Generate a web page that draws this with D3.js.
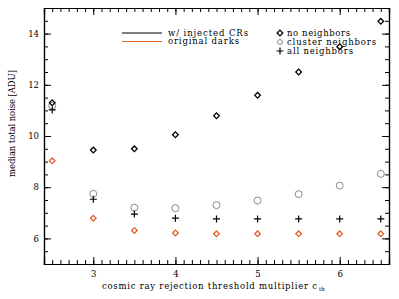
<!DOCTYPE html>
<html><head><meta charset="utf-8">
<script src="https://cdn.jsdelivr.net/npm/d3@7"></script>
<style>body{margin:0;background:#fff}svg{display:block}text{font-family:"DejaVu Serif",serif;}</style>
</head><body>
<script>
const xVals = [2.5, 3, 3.5, 4, 4.5, 5, 5.5, 6, 6.5];
const noNeighbors = [11.3, 9.45, 9.5, 10.05, 10.79, 11.59, 12.5, 13.49, 14.48];
const clusterNeighbors = [11.18, 7.74, 7.2, 7.18, 7.3, 7.48, 7.73, 8.06, 8.52];
const allNeighbors = [11.02, 7.53, 6.95, 6.79, 6.76, 6.76, 6.76, 6.76, 6.76];
const originalDarks = [9.03, 6.79, 6.31, 6.21, 6.18, 6.18, 6.18, 6.18, 6.18];
const xTickLabels = [3, 4, 5, 6];
const yTickLabels = [6, 8, 10, 12, 14];

const W = 399, H = 299;
const m = {l: 44, r: 10, t: 8, b: 35};
const svg = d3.select("body").append("svg").attr("width", W).attr("height", H);
const x = d3.scaleLinear().domain([2.4, 6.6]).range([m.l, W - m.r]);
const y = d3.scaleLinear().domain([5, 15]).range([H - m.b, m.t]);
const orange = "#e0632e", grey = "#8a8a8a";

const xMinor = d3.range(24, 67).map(v => v / 10);
const yMinor = d3.range(10, 31).map(v => v / 2);

function axis(gen, minor, major, translate, labels) {
  const g = svg.append("g").attr("transform", translate);
  g.call(gen.tickValues(minor).tickSize(4).tickFormat("")).call(s => s.selectAll("text").remove());
  const g2 = svg.append("g").attr("transform", translate);
  g2.call(gen.tickValues(major).tickSize(7).tickFormat(labels ? d3.format("d") : ""));
  if (!labels) g2.selectAll("text").remove();
  [g, g2].forEach(s => { s.select(".domain").attr("stroke", "#000").attr("stroke-width", 1.2); s.selectAll("line").attr("stroke", "#000"); });
  return g2;
}
const gb = axis(d3.axisTop(x), xMinor, xTickLabels, `translate(0,${H - m.b})`, true);
gb.selectAll("text").attr("y", 7).attr("dy", "0.71em").attr("font-size", 8.5).attr("fill", "#000");
axis(d3.axisBottom(x), xMinor, xTickLabels, `translate(0,${m.t})`, false);
const gl = axis(d3.axisRight(y), yMinor, yTickLabels, `translate(${m.l},0)`, true);
gl.selectAll("text").attr("x", -5).attr("text-anchor", "end").attr("font-size", 8.5).attr("fill", "#000");
axis(d3.axisLeft(y), yMinor, yTickLabels, `translate(${W - m.r},0)`, false);

// axis titles
svg.append("text").attr("x", 102).attr("y", 289).attr("font-size", 8.5)
  .attr("textLength", 215).attr("lengthAdjust", "spacing")
  .text("cosmic ray rejection threshold multiplier c");
svg.append("text").attr("x", 319).attr("y", 291).attr("font-size", 5.5).text("th");
svg.append("text").attr("transform", `translate(15,123.5) rotate(-90)`)
  .attr("text-anchor", "middle").attr("font-size", 8.5)
  .attr("textLength", 107).attr("lengthAdjust", "spacing")
  .text("median total noise [ADU]");

const diamondPath = d3.symbol().type(d3.symbolSquare).size(16)();

function diamonds(vals, color) {
  svg.append("g").selectAll("path").data(vals).join("path")
    .attr("transform", (d, i) => `translate(${x(xVals[i])},${y(d)}) rotate(45)`)
    .attr("d", diamondPath)
    .attr("fill", "none").attr("stroke", color).attr("stroke-width", 1.3);
}
function plusMarks(vals, color) {
  svg.append("g").selectAll("path").data(vals).join("path")
    .attr("d", (d, i) => { const cx = x(xVals[i]), cy = y(d); return `M${cx-3.5},${cy}H${cx+3.5}M${cx},${cy-3.5}V${cy+3.5}`; })
    .attr("stroke", color).attr("stroke-width", 1.2).attr("fill", "none");
}
function circles(vals, color) {
  svg.append("g").selectAll("circle").data(vals).join("circle")
    .attr("cx", (d, i) => x(xVals[i])).attr("cy", d => y(d)).attr("r", 3.5)
    .attr("fill", "none").attr("stroke", color).attr("stroke-width", 1);
}
circles(clusterNeighbors, grey);
plusMarks(allNeighbors, "#000");
diamonds(noNeighbors, "#000");
diamonds(originalDarks, orange);

// legends
const lg = svg.append("g").attr("font-size", 8.5);
[["w/ injected CRs", "#000", 33, 80], ["original darks", orange, 41.5, 71]].forEach(([t, c, yy, len]) => {
  lg.append("line").attr("x1", 122).attr("x2", 162).attr("y1", yy).attr("y2", yy).attr("stroke", c).attr("stroke-width", 1.2);
  lg.append("text").attr("x", 168).attr("y", yy + 2.5).attr("textLength", len).attr("lengthAdjust", "spacing").text(t);
});
const lx = 280;
lg.append("path").attr("transform", `translate(${lx},33) rotate(45)`).attr("d", diamondPath)
  .attr("fill", "none").attr("stroke", "#000").attr("stroke-width", 1.3);
lg.append("circle").attr("cx", lx).attr("cy", 42).attr("r", 2.5).attr("fill", "none").attr("stroke", grey);
lg.append("path").attr("d", `M${lx-3.5},51H${lx+3.5}M${lx},47.5V54.5`).attr("stroke", "#000").attr("stroke-width", 1.2);
[["no neighbors", 33, 63], ["cluster neighbors", 42, 89], ["all neighbors", 51, 66]].forEach(([t, yy, len]) => {
  lg.append("text").attr("x", 287).attr("y", yy + 2.5).attr("textLength", len).attr("lengthAdjust", "spacing").text(t);
});
</script>
</body></html>
